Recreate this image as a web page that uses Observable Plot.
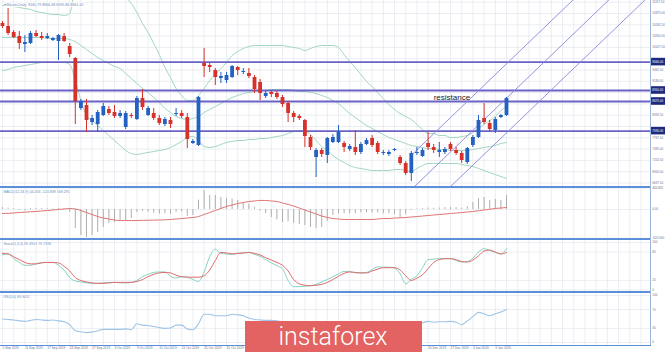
<!DOCTYPE html>
<html><head><meta charset="utf-8">
<script src="https://cdn.jsdelivr.net/npm/d3@7"></script>
<script src="https://cdn.jsdelivr.net/npm/@observablehq/plot@0.6"></script>
<style>
body{margin:0;background:#fff;}
#chart{position:relative;width:665px;height:352px;overflow:hidden;background:#fff;font-family:"Liberation Sans",Arial,sans-serif;}
.sep{position:absolute;left:0;width:651px;background:#5b8fd9;}
</style></head><body><div id="chart"></div>
<script>
// ---- Data (Bitcoin, Daily) ----
const open = [10625,10550,10400,10300,10100,10125,10375,10300,10250,10200, 10175,10300,10050,9750,8500,8575,8150,8100,8325,8475, 8400,8300,8025,8325,8225,8750,8325,8375,8250,8100, 8200,8350,8375,8275,7625,7575,9625,9575,9450,9250, 9200,9275,9525,9400,9375,9275,9150,8800,8900,8875, 8775,8625,8375,8300,8200,7775,7275,7450,7325,7650, 7650,7625,7475,7525,7400,7600,7750,7625,7375,7350, 7450,7275,7125,6875,7375,7300,7625,7525,7400,7400, 7600,7450,7375,7150,7575,7775,8250,8125,7950,8275, 8325];
const close = [10550,10375,10275,10125,10150,10375,10300,10250,10300,10250, 10325,10175,9850,8675,8675,8200,8250,8400,8550,8375, 8300,8375,8375,8300,8750,8525,8500,8250,8125,8225, 8100,8375,8300,7725,7675,8775,9550,9525,9275,9300, 9325,9550,9450,9425,9300,8975,8875,8875,8850,8775, 8600,8375,8275,8250,7800,7525,7450,7350,7750,7775, 7900,7525,7550,7400,7600,7700,7575,7400,7400,7400, 7475,7125,6875,7375,7400,7450,7525,7450,7450,7475, 7475,7375,7200,7500,7775,8200,8150,7975,8225,8325, 8750];
const high = [10675,11000,10450,10425,10325,10425,10450,10400,10375,10275, 10350,10375,10125,9775,8725,8725,8325,8450,8625,8550, 8575,8450,8425,8375,8800,8975,8550,8500,8325,8275, 8275,8500,8450,8375,7725,8800,10000,9625,9500,9400, 9400,9575,9550,9500,9500,9325,9225,8925,8950,8925, 8825,8675,8425,8350,8225,7825,7500,7500,7775,7850, 8075,7675,7600,7950,7650,7750,7825,7675,7450,7450, 7500,7325,7175,7425,7525,7500,7900,7600,7650,7525, 7650,7525,7425,7525,7825,8325,8625,8200,8275,8350, 8775];
const low = [10500,10325,10250,9975,9900,10100,10275,10200,10225,10175, 9700,10150,9775,8100,8450,7900,8075,7900,8300,8325, 8250,8250,7975,8250,8200,8450,8300,8200,8075,8050, 8000,8300,8250,7500,7600,7550,9275,9400,9075,9125, 9125,9250,9325,9350,9250,8875,8700,8750,8775,8725, 8525,8150,8150,8200,7525,7450,6775,7275,7125,7625, 7625,7400,7425,7325,7350,7575,7525,7350,7325,7300, 7425,7075,6825,6675,7325,7275,7450,7375,7275,7350, 7425,7325,7125,7100,7525,7750,8100,7925,7875,8250, 8300];

const bbUpper = [11075,11075,11050,11025,11000,10975,10925,10900,10875,10850, 10850,10825,10875,11575,11825,11900,11900,11875,11825,11750, 11625,11425,11300,11125,10900,10625,10400,10125,9850,9525, 9275,9000,8825,8700,8700,8825,9000,9200,9350,9500, 9650,9825,9925,10000,10050,10075,10075,10075,10075,10075, 10075,10050,10025,10000,9950,10000,10050,10075,10075,10075, 10025,9850,9675,9525,9350,9175,9050,8900,8750,8600, 8475,8375,8300,8225,8100,7975,7875,7875,7825,7825, 7775,7775,7800,7825,7900,8000,8100,8200,8300,8450, 8550];
const bbMiddle = [10275,10275,10275,10275,10275,10275,10275,10275,10250,10250, 10250,10250,10225,10175,10075,9975,9875,9775,9700,9625, 9550,9500,9375,9250,9125,9000,8900,8775,8650,8500, 8400,8300,8250,8225,8250,8300,8400,8475,8550,8625, 8700,8775,8825,8875,8900,8925,8950,8950,8975,8975, 8975,8975,8950,8925,8925,8900,8875,8825,8775,8700, 8625,8500,8375,8275,8175,8075,8000,7925,7850,7775, 7725,7675,7625,7575,7550,7525,7500,7500,7475,7475, 7450,7450,7450,7450,7475,7500,7525,7550,7575,7625, 7650];
const bbLower = [9450,9475,9525,9550,9575,9600,9625,9650,9650,9650, 9650,9650,9600,9200,8700,8325,8200,8075,7950,7825, 7700,7575,7450,7375,7350,7375,7400,7425,7450,7475, 7525,7600,7675,7775,7800,7700,7550,7525,7550,7600, 7650,7675,7700,7700,7725,7725,7750,7750,7775,7800, 7825,7875,7925,7950,7925,7850,7700,7550,7450,7325, 7225,7150,7075,7025,7000,6975,6950,6950,6950,6950, 6975,6975,6950,6925,7000,7075,7125,7125,7125,7125, 7125,7125,7100,7075,7050,7000,6950,6900,6850,6800, 6750];

const levels = [9660, 8950, 8675, 7935];
const resistanceNote = [{i: 77, price: 8775, text: "resistance"}];
const channelX = [73.2, 115.7];
const channelLower = [5632, 11344];
const channelMiddle = [6500, 12212];
const channelUpper = [7359, 13071];

const macdHist = [40,30,20,-20,-30,20,25,20,15,10, 20,10,-60,-408,-558,-600,-558,-494,-386,-300, -279,-236,-236,-193,-64,-40,-60,-80,-100,-90, -100,-60,-50,-150,-130,200,408,300,300,258, 240,220,193,150,110,40,-30,-86,-172,-220, -279,-260,-300,-320,-343,-386,-408,-386,-250,-129, -90,-90,-90,-90,-70,-70,-75,-75,-90,-90, -110,-172,-110,-20,10,20,30,25,30,40, 45,40,30,60,150,236,258,193,215,193, 300];
const macdSignal = [-86,-82,-75,-65,-58,-49,-43,-32,-22,-11, 0,11,22,11,-22,-65,-108,-151,-183,-204, -226,-237,-237,-237,-237,-232,-232,-228,-226,-221, -215,-204,-194,-183,-172,-151,-108,-65,-22,22, 65,97,129,151,172,183,194,194,183,172, 140,108,75,32,-11,-54,-97,-140,-172,-194, -204,-215,-215,-215,-215,-215,-215,-204,-194,-194, -183,-178,-172,-161,-151,-140,-129,-118,-108,-97, -86,-75,-65,-54,-43,-26,-11,4,22,32, 43];
const stochK = [74,76,66,58,52,52,55,58,58,58, 52,42,26,19,17,15,14,14,15,16, 16,15,15,16,20,28,33,37,38,38, 29,25,28,27,22,18,38,70,86,77, 76,75,77,78,79,75,71,64,57,51, 45,20,7,7,8,9,12,17,22,28, 34,39,39,36,36,37,43,49,48,48, 46,34,13,22,30,47,64,65,66,66, 66,62,59,60,67,80,87,83,79,76, 87];
const stochD = [77,76,70,64,58,55,55,57,58,58, 57,50,40,26,20,17,15,14,14,15, 16,16,16,16,18,22,28,33,36,37, 36,31,28,27,27,27,30,42,62,79, 78,76,77,78,79,77,74,68,63,58, 52,40,22,13,10,9,10,12,16,22, 29,35,38,37,36,36,40,44,47,47, 47,42,30,20,25,32,45,58,64,66, 66,64,60,59,63,72,82,84,80,76, 79];
const rsi = [50,49,48,46,45,47,49,48,47,48, 46,44,38,25,23,21,22,25,28,28, 28,28,29,27,40,37,36,34,32,30, 31,37,37,29,27,40,60,60,57,57, 57,60,59,57,52,49,48,47,47,46, 43,40,38,37,32,29,31,30,36,38, 40,37,38,36,38,40,37,35,35,36, 37,34,30,39,40,42,45,43,44,44, 45,43,38,46,55,64,61,57,61,65, 70];

const priceTicks = [11157.5,10875,10592.5,10310,10027.5,9745,9462.5,9180,8897.5,8615,8332.5,8050,7767.5,7485,7202.5,6920,6637.5];
const macdTicks = [460.832, 0, -620.5];
const stochTicks = [100, 80, 20, 0];
const rsiTicks = [100, 70, 30, 0];
const dateTickIndex = [0,4,8,12,16,20,24,28,32,36,40,44,48,52,56,60,64,68,72,76,80,84,88];
const dateTickLabels = ["5 Sep 2019","11 Sep 2019","17 Sep 2019","23 Sep 2019","27 Sep 2019","3 Oct 2019","9 Oct 2019","15 Oct 2019","21 Oct 2019","25 Oct 2019","31 Oct 2019","6 Nov 2019","12 Nov 2019","18 Nov 2019","22 Nov 2019","28 Nov 2019","4 Dec 2019","10 Dec 2019","16 Dec 2019","20 Dec 2019","27 Dec 2019","3 Jan 2020","9 Jan 2020"];
const titles = {
  main: "\u25BE Bitcoin,Daily  8160.79 8866.48 8095.86 8661.40",
  macd: "MACD(12,26,9) 44.456 -124.839 169.295",
  stoch: "Stoch(5,3,3) 89.3953 79.7398",
  rsi: "RSI(14) 69.9411"
};

// ---- Drawing ----
const chart = document.getElementById("chart");
const blue = "#2361c2", red = "#d7312b", gridC = "#e3e7ed", bandC = "#a3d6c0", levelC = "#6a62c6", chanC = "#8d85dc", axisC = "#5f7393";
const idx = open.map((_, i) => i);
const candles = idx.map(i => ({i, o: open[i], h: high[i], l: low[i], c: close[i]}));
const col = d => d.c >= d.o ? blue : red;
const xDomain = [-0.357, 115.714];
const gridX = d3.range(0, 116, 2);
const channel = [["lower", channelLower], ["middle", channelMiddle], ["upper", channelUpper]]
  .flatMap(([name, ys]) => channelX.map((x, k) => ({name, x, y: ys[k]})));
// axis labels not hidden under a highlighted level box / under the watermark
const visiblePriceTicks = priceTicks.filter(t => levels.every(l => Math.abs(l - t) > 140));
const dateTicks = dateTickIndex.map((i, k) => ({i, label: dateTickLabels[k]}));
const visibleDateTicks = dateTicks.filter(d => d.i < 43 || d.i > 73);

function panel(top, height, yDomain, marks, mb = 0) {
  const svg = Plot.plot({
    width: 665, height, marginLeft: 0, marginRight: 15, marginTop: 0, marginBottom: mb,
    x: {domain: xDomain, axis: null}, y: {domain: yDomain, axis: null},
    style: {background: "transparent", fontFamily: "'Liberation Sans', Arial, sans-serif", fontSize: "4px", overflow: "visible"},
    marks
  });
  svg.style.position = "absolute"; svg.style.left = "0px"; svg.style.top = top + "px";
  chart.appendChild(svg);
}
const tickText = (ticks, fmt) => Plot.text(ticks, {y: d => d, frameAnchor: "right", dx: 1.8, textAnchor: "start", text: fmt, fill: axisC, fontSize: 3});
const titleText = t => Plot.text([t], {frameAnchor: "top-left", dx: 3, dy: 2.5, textAnchor: "start", lineAnchor: "top", text: d => d, fill: "#6b8cbc", fontSize: 3.6, stroke: "white", strokeWidth: 1.5, paintOrder: "stroke"});

// Main price panel
panel(0, 187, [6525, 11200], [
  Plot.ruleX(gridX, {x: d => d, stroke: gridC, strokeWidth: 0.7}),
  Plot.ruleY(priceTicks, {y: d => d, stroke: gridC, strokeWidth: 0.7}),
  Plot.line(idx, {x: d => d, y: i => bbUpper[i], stroke: bandC, strokeWidth: 1, clip: true, curve: "monotone-x"}),
  Plot.line(idx, {x: d => d, y: i => bbMiddle[i], stroke: bandC, strokeWidth: 1, clip: true, curve: "monotone-x"}),
  Plot.line(idx, {x: d => d, y: i => bbLower[i], stroke: bandC, strokeWidth: 1, clip: true, curve: "monotone-x"}),
  Plot.ruleY(levels, {y: d => d, stroke: levelC, strokeWidth: 1.8}),
  Plot.line(channel, {x: "x", y: "y", z: "name", stroke: chanC, strokeWidth: 0.9, clip: true}),
  Plot.ruleX(candles, {x: "i", y1: "l", y2: "h", stroke: col, strokeWidth: 1}),
  Plot.ruleX(candles, {x: "i", y1: "o", y2: "c", stroke: col, strokeWidth: 3.8}),
  Plot.text(resistanceNote, {x: "i", y: "price", text: "text", textAnchor: "start", fontSize: 8, fill: "#222"}),
  tickText(visiblePriceTicks, d => d.toFixed(2)),
  Plot.rect(levels, {x1: 115.9, x2: 118.6, y1: d => d - 95, y2: d => d + 95, fill: "#1f2a7c"}),
  Plot.text(levels, {y: d => d, frameAnchor: "right", dx: 1.8, textAnchor: "start", text: d => d.toFixed(2), fill: "white", fontSize: 3}),
  titleText(titles.main)
]);

// MACD panel
panel(187, 52, [-644, 472], [
  Plot.ruleX(gridX, {x: d => d, stroke: gridC, strokeWidth: 0.7}),
  Plot.ruleY(macdTicks, {y: d => d, stroke: gridC, strokeWidth: 0.7}),
  Plot.ruleX(idx, {x: d => d, y1: 0, y2: i => macdHist[i], stroke: "#a6a6a6", strokeWidth: 0.9}),
  Plot.line(idx, {x: d => d, y: i => macdSignal[i], stroke: "#e07575", strokeWidth: 1, curve: "monotone-x"}),
  tickText(macdTicks, d => d === 0 ? "0.00" : d.toFixed(3)),
  titleText(titles.macd)
]);

// Stochastic panel
panel(239, 53, [-5.26, 106.3], [
  Plot.ruleX(gridX, {x: d => d, stroke: gridC, strokeWidth: 0.7}),
  Plot.ruleY(stochTicks, {y: d => d, stroke: gridC, strokeWidth: 0.7}),
  Plot.line(idx, {x: d => d, y: i => stochK[i], stroke: "#86d2c2", strokeWidth: 1, curve: "monotone-x"}),
  Plot.line(idx, {x: d => d, y: i => stochD[i], stroke: "#e06a6a", strokeWidth: 1, curve: "monotone-x"}),
  tickText(stochTicks, d => String(d)),
  titleText(titles.stoch)
]);

// RSI panel + date axis
panel(292, 60, [-6.4, 106.4], [
  Plot.ruleX(gridX, {x: d => d, stroke: gridC, strokeWidth: 0.7}),
  Plot.ruleY(rsiTicks, {y: d => d, stroke: gridC, strokeWidth: 0.7}),
  Plot.line(idx, {x: d => d, y: i => rsi[i], stroke: "#9ec4e8", strokeWidth: 1.1, curve: "monotone-x"}),
  tickText(rsiTicks, d => String(d)),
  Plot.text(visibleDateTicks, {x: "i", frameAnchor: "bottom", dy: 3.6, textAnchor: "start", text: "label", fill: axisC, fontSize: 3.2}),
  titleText(titles.rsi)
], 7);

// separators and right axis line
[[186, 2], [238, 2], [291, 2], [344.5, 1]].forEach(([t, h]) => {
  const s = document.createElement("div"); s.className = "sep";
  s.style.top = t + "px"; s.style.height = h + "px"; chart.appendChild(s);
});
const ax = document.createElement("div");
ax.style.cssText = "position:absolute;left:650px;top:0;width:1px;height:345px;background:#9db6da;";
chart.appendChild(ax);

// watermark
const logo = document.createElement("div");
logo.style.cssText = "position:absolute;left:245px;top:321px;width:177px;height:31px;background:#e36262;";
logo.innerHTML = '<svg width="177" height="31"><text x="88" y="24" text-anchor="middle" fill="#fff" font-family="Roboto, \'Open Sans\', sans-serif" font-weight="300" font-size="25">instaforex</text></svg>';
chart.appendChild(logo);
</script></body></html>
